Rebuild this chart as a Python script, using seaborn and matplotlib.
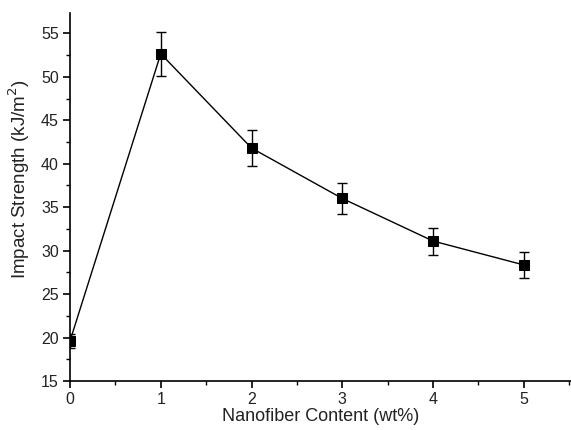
import matplotlib
matplotlib.use("Agg")
import matplotlib.pyplot as plt
from matplotlib.ticker import MultipleLocator
import seaborn as sns
import pandas as pd

content = [0, 1, 2, 3, 4, 5]
strength = [19.6, 52.65, 41.8, 36.0, 31.1, 28.35]
err = [0.8, 2.55, 2.1, 1.8, 1.55, 1.45]

sns.set_style("ticks")
plt.rcParams['font.family'] = ['Liberation Sans', 'DejaVu Sans']

df = pd.DataFrame({"x": content, "y": strength})

fig = plt.figure(figsize=(5.71, 4.30), dpi=100)
ax = fig.add_axes([0.1226, 0.114, 0.8774, 0.855])

ax.errorbar(content, strength, yerr=err, fmt='none', ecolor='black',
            elinewidth=1.0, capsize=3.5, capthick=1.0, zorder=2)
sns.lineplot(data=df, x="x", y="y", ax=ax, color='black', linewidth=1.0,
             marker='s', markersize=7, markeredgecolor='black',
             markerfacecolor='black', zorder=3)

ax.set_xlim(0, 5.52)
ax.set_ylim(15, 57.3)
ax.xaxis.set_major_locator(MultipleLocator(1))
ax.xaxis.set_minor_locator(MultipleLocator(0.5))
ax.yaxis.set_major_locator(MultipleLocator(5))
ax.yaxis.set_minor_locator(MultipleLocator(2.5))
ax.tick_params(axis='both', which='major', direction='out', length=5, width=1.2,
               labelsize=11.5, colors='black', labelcolor='#222222', pad=3)
ax.tick_params(axis='both', which='minor', direction='out', length=3, width=1.0, colors='black')

for s in ['top', 'right']:
    ax.spines[s].set_visible(False)
for s in ['left', 'bottom']:
    ax.spines[s].set_linewidth(1.2)
    ax.spines[s].set_color('black')

ax.set_xlabel("Nanofiber Content (wt%)", fontsize=13, color='#222222', labelpad=1)
ax.set_ylabel("Impact Strength (kJ/m$^2$)", fontsize=13.5, color='#222222')
ax.yaxis.set_label_coords(-0.075, 0.55)

fig.savefig("out.png", dpi=100)
